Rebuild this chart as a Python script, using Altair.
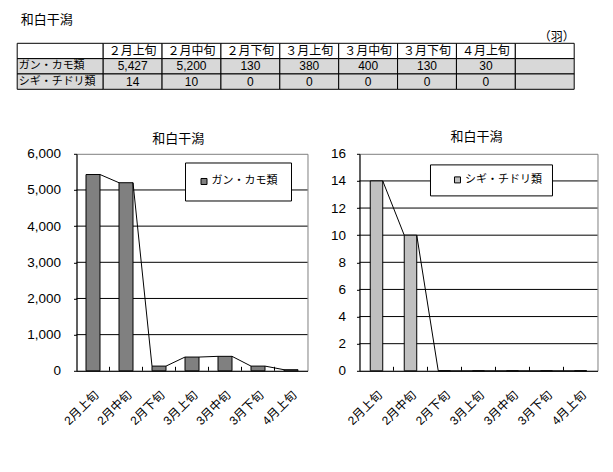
import altair as alt
import pandas as pd

# ---------------- data ----------------
TITLE = "和白干潟"
UNIT = "（羽）"
PERIODS = ["2月上旬", "2月中旬", "2月下旬", "3月上旬", "3月中旬", "3月下旬", "4月上旬"]
TABLE_HEADERS = ["２月上旬", "２月中旬", "２月下旬", "３月上旬", "３月中旬", "３月下旬", "４月上旬"]
SERIES = ["ガン・カモ類", "シギ・チドリ類"]
GANKAMO = [5427, 5200, 130, 380, 400, 130, 30]
SHIGI = [14, 10, 0, 0, 0, 0, 0]
LEFT_TICKS = [0, 1000, 2000, 3000, 4000, 5000, 6000]
RIGHT_TICKS = [0, 2, 4, 6, 8, 10, 12, 14, 16]

# ---------------- styles ----------------
JP = "Noto Sans CJK JP"
NUM = "Liberation Sans"
MIX = "Liberation Sans, Noto Sans CJK JP"
CELL_GRAY = "#d8d8d8"

# ---------------- table ----------------
ROW_KEYS = ["header"] + SERIES
COL_KEYS = PERIODS + ["blank"]
T_LEFT, T_SPLIT, T_RIGHT, T_H = -59.3, 26.7, 497.7, 46

cells = pd.DataFrame([{"row": r, "col": c, "kind": "head" if r == "header" else "body"}
                      for r in ROW_KEYS for c in COL_KEYS])
head_cells = pd.DataFrame([{"row": r, "col": "rowhead", "kind": "head" if r == "header" else "body"}
                           for r in ROW_KEYS])
header_text = pd.DataFrame({"row": "header", "col": PERIODS, "text": TABLE_HEADERS})
values_df = pd.DataFrame([{"row": s, "col": c, "value": v}
                          for s, vals in zip(SERIES, [GANKAMO, SHIGI])
                          for c, v in zip(PERIODS, vals)])
row_labels = pd.DataFrame({"row": SERIES, "col": "rowhead", "text": SERIES})

y_rows = alt.Y("row:N", sort=ROW_KEYS,
               scale=alt.Scale(domain=ROW_KEYS, paddingInner=0, paddingOuter=0), axis=None)
fill_enc = alt.Color("kind:N", scale=alt.Scale(domain=["head", "body"], range=["white", CELL_GRAY]),
                     legend=None)

xa_scale = alt.Scale(domain=["rowhead"], range=[T_LEFT, T_SPLIT], paddingInner=0, paddingOuter=0)
layer_a = alt.layer(
    alt.Chart(head_cells).mark_rect(stroke="black", strokeWidth=1).encode(
        x=alt.X("col:N", scale=xa_scale, axis=None), y=y_rows, color=fill_enc),
    alt.Chart(row_labels).mark_text(align="left", dx=1.5, font=JP, fontSize=11, color="black").encode(
        x=alt.X("col:N", bandPosition=0, scale=xa_scale, axis=None), y=y_rows, text="text:N"),
)

xb_scale = alt.Scale(domain=COL_KEYS, range=[T_SPLIT, T_RIGHT], paddingInner=0, paddingOuter=0)
xb_axis = alt.Axis(orient="top", title=UNIT, labels=False, ticks=False, domain=False, grid=False,
                   titleAnchor="end", titleAlign="right", titleFont=JP, titleFontSize=12,
                   titleFontWeight="normal", titlePadding=0, titleColor="black")
layer_b = alt.layer(
    alt.Chart(cells).mark_rect(stroke="black", strokeWidth=1).encode(
        x=alt.X("col:N", scale=xb_scale, axis=xb_axis), y=y_rows, color=fill_enc),
    alt.Chart(header_text).mark_text(font=JP, fontSize=12, color="black").encode(
        x=alt.X("col:N", scale=xb_scale, axis=xb_axis), y=y_rows, text="text:N"),
    alt.Chart(values_df).mark_text(font=NUM, fontSize=12, color="black").encode(
        x=alt.X("col:N", scale=xb_scale, axis=xb_axis), y=y_rows,
        text=alt.Text("value:Q", format=",d")),
)

table_chart = alt.layer(layer_a, layer_b).resolve_scale(x="independent").properties(
    width=T_RIGHT, height=T_H,
    view=alt.ViewBackground(stroke="transparent"),
    title=alt.TitleParams(TITLE, anchor="start", frame="bounds", fontSize=13, font=JP,
                          fontWeight="normal", color="black", offset=3, dx=4),
)


# ---------------- bar charts ----------------
def bar_chart(vals, ticks, series, color, bar_w, width, leg_x, leg_y, leg_pad, sym_off,
              title_dx, title_off, lab_pad, fmt):
    df = pd.DataFrame({"cat": PERIODS, "value": vals, "series": series})
    seg = pd.DataFrame({"cat": PERIODS[:-1], "next": PERIODS[1:], "v": vals[:-1], "v2": vals[1:]})
    grid = pd.DataFrame({"v": ticks[1:-1]})
    bounds = pd.DataFrame({"cat": PERIODS[1:]})

    xscale = alt.Scale(domain=PERIODS, paddingInner=0, paddingOuter=0)
    yscale = alt.Scale(domain=[ticks[0], ticks[-1]], nice=False, zero=True)
    x_axis = alt.Axis(title=None, labelAngle=315, labelAlign="right", labelBaseline="top",
                      labelFont=MIX, labelFontSize=12, labelPadding=18, ticks=False,
                      labelOverlap=False, domainColor="black", labelColor="black", grid=False)
    y_axis = alt.Axis(title=None, values=ticks, tickCount=len(ticks), format=fmt, grid=False,
                      tickSize=3, tickColor="black", domainColor="black", labelFont=NUM,
                      labelFontSize=13.5, labelPadding=lab_pad, labelColor="black",
                      labelOverlap=False)
    X = lambda **kw: alt.X("cat:N", sort=PERIODS, scale=xscale, axis=x_axis, **kw)

    grid_l = alt.Chart(grid).mark_rule(color="black", strokeWidth=1).encode(
        y=alt.Y("v:Q", scale=yscale, axis=y_axis))
    bars = alt.Chart(df).mark_bar(size=bar_w, stroke="black", strokeWidth=1).encode(
        x=X(), y=alt.Y("value:Q", scale=yscale, axis=y_axis),
        color=alt.Color("series:N", scale=alt.Scale(domain=[series], range=[color]),
                        legend=alt.Legend(title=None, orient="none", legendX=leg_x, legendY=leg_y,
                                          fillColor="white", strokeColor="black", padding=leg_pad,
                                          symbolType="square", symbolSize=36,
                                          symbolStrokeColor="black", symbolStrokeWidth=1,
                                          symbolOffset=sym_off, labelFont=JP, labelFontSize=11,
                                          labelColor="black", labelOffset=2)))
    lines = alt.Chart(seg).mark_rule(color="black", strokeWidth=1, xOffset=bar_w / 2,
                                     x2Offset=-bar_w / 2).encode(
        x=X(), x2="next:N", y=alt.Y("v:Q", scale=yscale, axis=y_axis), y2="v2:Q")
    inner_ticks = alt.Chart(bounds).mark_rule(color="black", strokeWidth=1, y2Offset=-4).encode(
        x=X(bandPosition=0), y=alt.YDatum(0, scale=yscale, axis=y_axis), y2=alt.Y2Datum(0))

    return alt.layer(grid_l, bars, lines, inner_ticks).properties(
        width=width, height=217,
        title=alt.TitleParams(TITLE, frame="group", fontSize=13, font=JP, fontWeight="normal",
                              color="black", offset=title_off, dx=title_dx),
    )


left = bar_chart(GANKAMO, LEFT_TICKS, SERIES[0], "#808080", 14, 231, 108.5, 8.7, 13.5, 0,
                 -13.7, 1, 13, ",d")
right = bar_chart(SHIGI, RIGHT_TICKS, SERIES[1], "#c0c0c0", 12.5, 238, 70.5, 10.6, 10, 12,
                  -2, 3, 11, "d")

row = alt.hconcat(left, right, spacing=21).resolve_scale(color="independent")

chart = alt.vconcat(table_chart, row, spacing=39.5).resolve_scale(color="independent").properties(
    padding={"left": 7.5, "top": 5.3, "right": 5, "bottom": 5}
).configure_view(stroke="#808080", strokeWidth=1).configure_axis(
    labelColor="black", domainColor="black", tickColor="black", labelOverlap=False)

chart.save("out.html", embed_options={"renderer": "svg", "actions": False})
